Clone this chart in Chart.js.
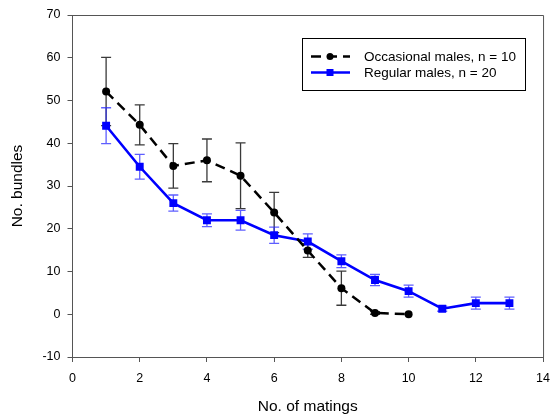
<!DOCTYPE html>
<html>
<head>
<meta charset="utf-8">
<script src="https://cdn.jsdelivr.net/npm/chart.js@4/dist/chart.umd.min.js"></script>
<style>
  html, body { margin: 0; padding: 0; background: #fff; }
  #chart { display: block; }
</style>
</head>
<body>
<canvas id="chart" width="559" height="420"></canvas>
<script>
// matings per male, mean bundles and standard errors
const occasionalX = [1, 2, 3, 4, 5, 6, 7, 8, 9, 10];
const occasionalMean = [52.1, 44.3, 34.7, 36.0, 32.4, 23.8, 14.9, 6.1, 0.3, 0.0];
const occasionalErr = [8.0, 4.7, 5.2, 5.0, 7.7, 4.7, 1.6, 4.0, 0.3, 0.0];

const regularX = [1, 2, 3, 4, 5, 6, 7, 8, 9, 10, 11, 12, 13];
const regularMean = [44.1, 34.5, 26.0, 22.0, 22.0, 18.5, 17.0, 12.4, 8.0, 5.4, 1.3, 2.6, 2.6];
const regularErr = [4.2, 2.9, 1.9, 1.5, 2.3, 1.9, 1.8, 1.5, 1.3, 1.4, 0.6, 1.4, 1.4];

const legendLabels = ['Occasional males, n = 10', 'Regular males, n = 20'];

const FONT = "'Liberation Sans', Arial, sans-serif";
const AXIS_COLOR = '#555';

const toPoints = (xs, ys) => xs.map((x, i) => ({ x: x, y: ys[i] }));

// vertical error bars with caps, drawn under the lines
const errorBars = {
    id: 'errorBars',
    beforeDatasetsDraw(chart) {
        const ctx = chart.ctx;
        const xs = chart.scales.x;
        const ys = chart.scales.y;
        chart.data.datasets.forEach(ds => {
            ctx.save();
            ctx.strokeStyle = ds.errorColor;
            ctx.lineWidth = 1.3;
            ds.data.forEach((p, i) => {
                const e = ds.errors[i];
                if (!e) return;
                const px = xs.getPixelForValue(p.x);
                const top = ys.getPixelForValue(p.y + e);
                const bot = ys.getPixelForValue(p.y - e);
                ctx.beginPath();
                ctx.moveTo(px, top);
                ctx.lineTo(px, bot);
                ctx.moveTo(px - 5, top);
                ctx.lineTo(px + 5, top);
                ctx.moveTo(px - 5, bot);
                ctx.lineTo(px + 5, bot);
                ctx.stroke();
            });
            ctx.restore();
        });
    }
};

// top and right edges of the plot box
const frame = {
    id: 'frame',
    afterDraw(chart) {
        const { left, right, top, bottom } = chart.chartArea;
        const ctx = chart.ctx;
        ctx.save();
        ctx.strokeStyle = AXIS_COLOR;
        ctx.lineWidth = 1;
        ctx.beginPath();
        ctx.moveTo(left, top + 0.5);
        ctx.lineTo(right + 0.5, top + 0.5);
        ctx.lineTo(right + 0.5, bottom);
        ctx.stroke();
        ctx.restore();
    }
};

// boxed legend inside the plot, upper right
const boxLegend = {
    id: 'boxLegend',
    afterDraw(chart) {
        const ctx = chart.ctx;
        ctx.save();
        ctx.strokeStyle = '#000';
        ctx.lineWidth = 1;
        ctx.strokeRect(302.5, 38.5, 223, 52);

        ctx.font = '13.5px ' + FONT;
        ctx.fillStyle = '#000';
        ctx.textBaseline = 'middle';
        const rows = [56.5, 72.5];
        chart.data.datasets.forEach((ds, i) => {
            const y = rows[i];
            ctx.strokeStyle = ds.borderColor;
            ctx.lineWidth = ds.borderWidth;
            ctx.setLineDash(ds.borderDash || []);
            ctx.beginPath();
            ctx.moveTo(311, y);
            ctx.lineTo(350, y);
            ctx.stroke();
            ctx.setLineDash([]);
            ctx.fillStyle = ds.pointBackgroundColor;
            ctx.beginPath();
            if (ds.pointStyle === 'rect') {
                ctx.rect(330 - 3.5, y - 3.5, 7, 7);
            } else {
                ctx.arc(330, y, 3.5, 0, Math.PI * 2);
            }
            ctx.fill();
            ctx.fillStyle = '#000';
            ctx.fillText(legendLabels[i], 364, y + 0.5);
        });
        ctx.restore();
    }
};

new Chart(document.getElementById('chart').getContext('2d'), {
    type: 'line',
    data: {
        datasets: [
            {
                label: legendLabels[0],
                data: toPoints(occasionalX, occasionalMean),
                errors: occasionalErr,
                errorColor: '#3a3a3a',
                borderColor: '#000',
                borderWidth: 2.5,
                borderDash: [10, 6],
                pointStyle: 'circle',
                pointRadius: 4,
                pointBackgroundColor: '#000',
                pointBorderWidth: 0,
                tension: 0
            },
            {
                label: legendLabels[1],
                data: toPoints(regularX, regularMean),
                errors: regularErr,
                errorColor: 'rgba(40, 40, 255, 0.75)',
                borderColor: '#0000ff',
                borderWidth: 2.6,
                pointStyle: 'rect',
                pointRadius: 5.6,
                pointBackgroundColor: '#0000ff',
                pointBorderWidth: 0,
                tension: 0
            }
        ]
    },
    options: {
        responsive: false,
        animation: false,
        layout: { padding: { top: 15, right: 8.5, left: 0, bottom: 0 } },
        plugins: {
            legend: { display: false },
            tooltip: { enabled: false }
        },
        scales: {
            x: {
                type: 'linear',
                min: 0,
                max: 14,
                afterFit(scale) { scale.height = 63; },
                ticks: {
                    stepSize: 2,
                    padding: 9,
                    color: '#000',
                    font: { family: FONT, size: 12.5 }
                },
                grid: {
                    drawOnChartArea: false,
                    tickLength: 5,
                    color: AXIS_COLOR
                },
                border: { color: AXIS_COLOR },
                title: {
                    display: true,
                    text: 'No. of matings',
                    color: '#000',
                    font: { family: FONT, size: 15.5, lineHeight: 1.2 },
                    padding: { top: 0, bottom: 4 }
                }
            },
            y: {
                min: -10,
                max: 70,
                afterFit(scale) { scale.width = 72.5; },
                ticks: {
                    stepSize: 10,
                    padding: 7,
                    color: '#000',
                    font: { family: FONT, size: 12.5 }
                },
                grid: {
                    drawOnChartArea: false,
                    tickLength: 5,
                    color: AXIS_COLOR
                },
                border: { color: AXIS_COLOR },
                title: {
                    display: true,
                    text: 'No. bundles',
                    color: '#000',
                    font: { family: FONT, size: 15.5, lineHeight: 1.2 },
                    padding: { top: 8, bottom: 0 }
                }
            }
        }
    },
    plugins: [errorBars, frame, boxLegend]
});
</script>
</body>
</html>
